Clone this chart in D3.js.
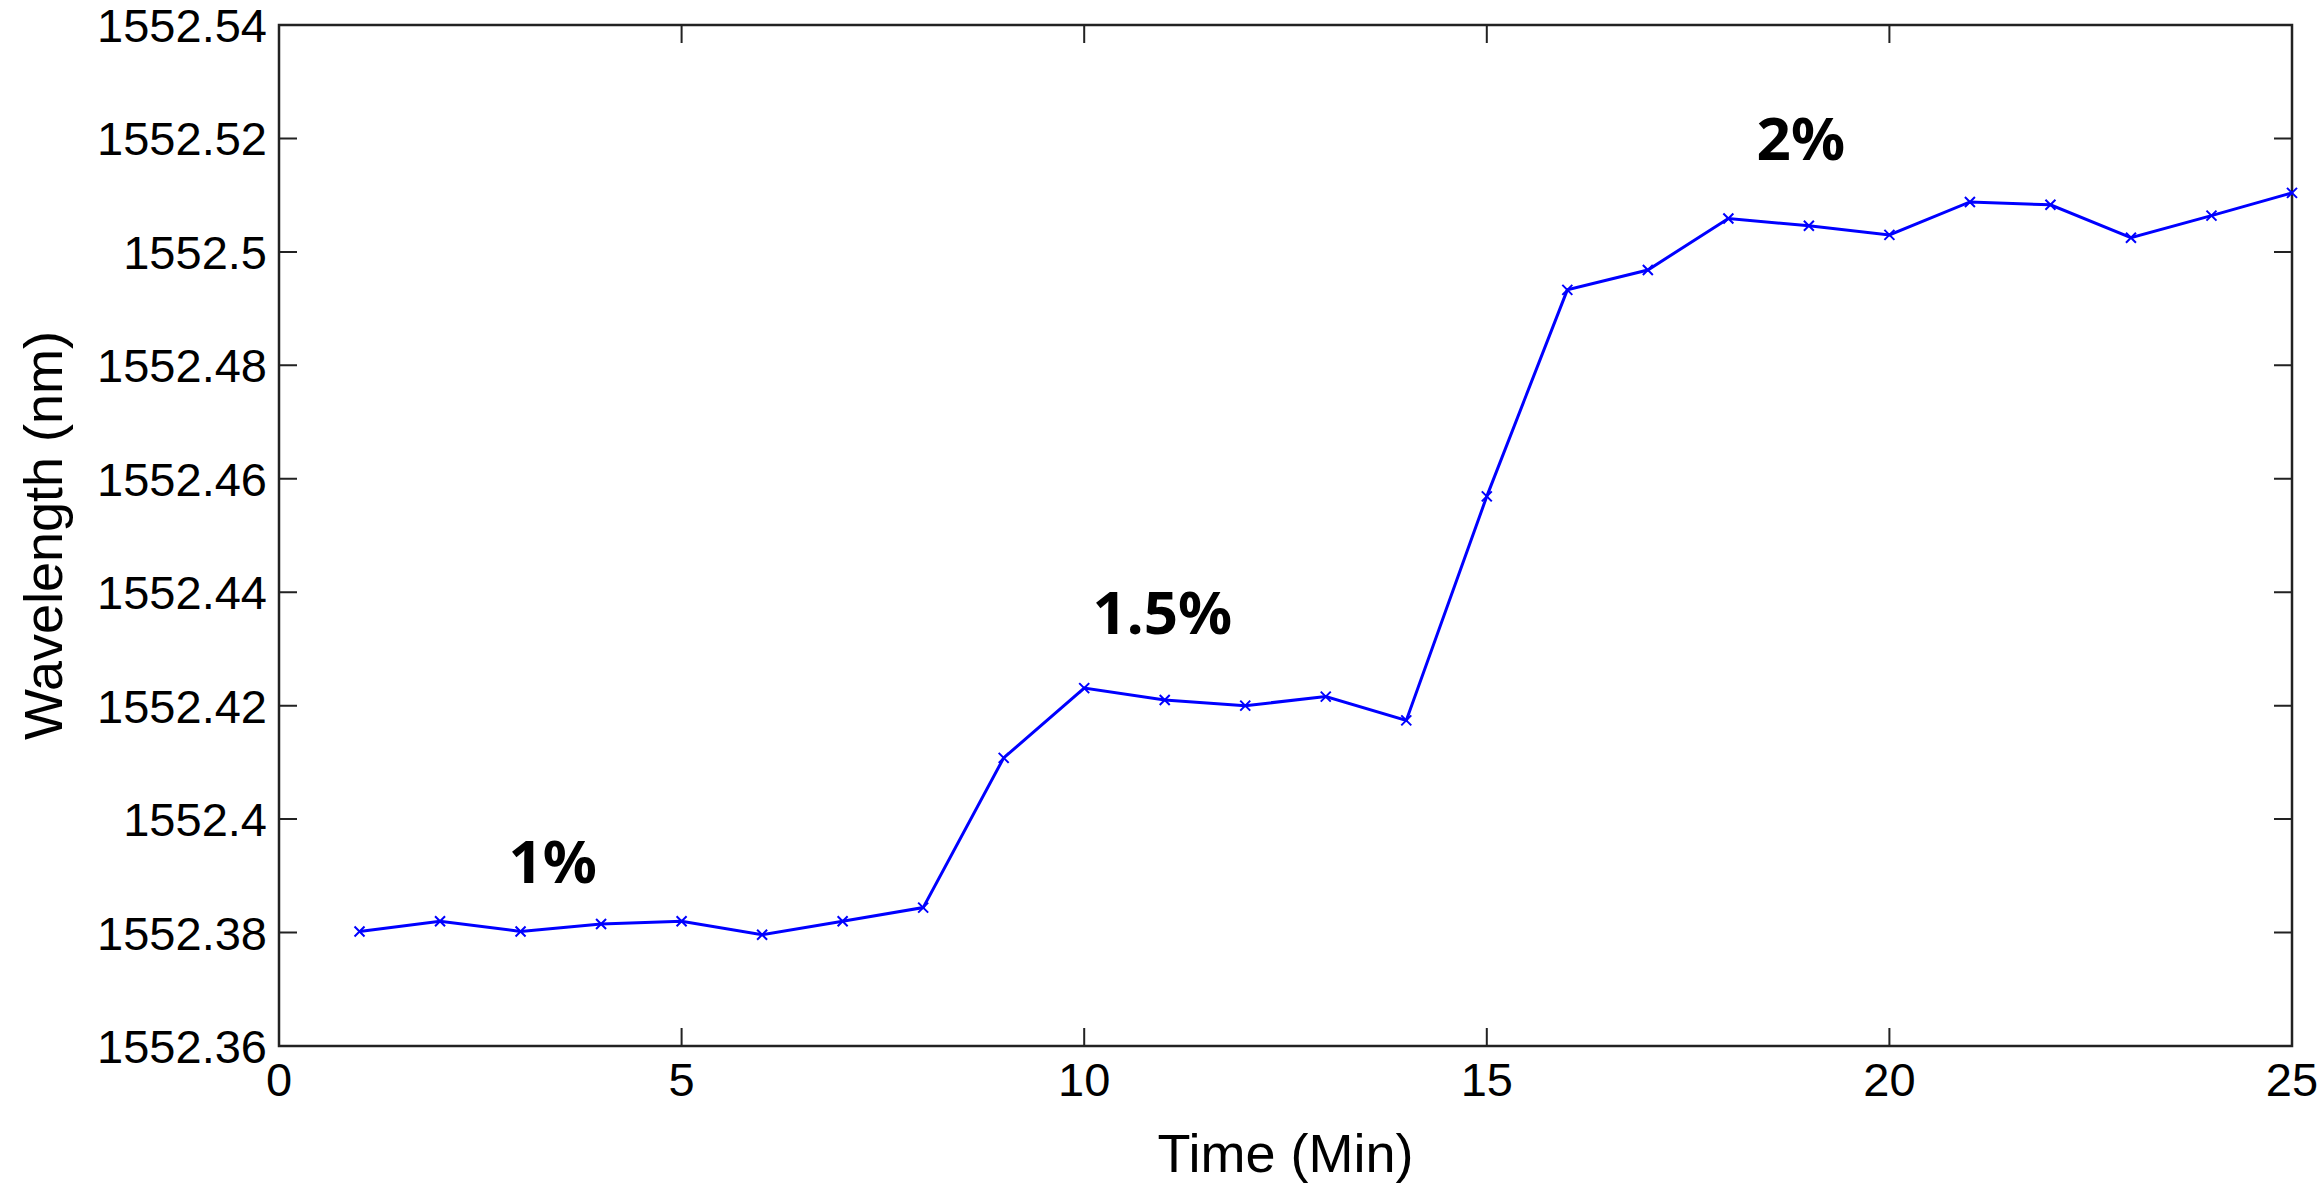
<!DOCTYPE html>
<html><head><meta charset="utf-8">
<script src="https://cdn.jsdelivr.net/npm/d3@7"></script>
<style>body{margin:0;background:#fff}svg{display:block}</style>
</head><body><svg id="sv" width="2324" height="1184"></svg>
<script>
const times = d3.range(1, 26);
const wavelengths = [1552.3802, 1552.3820, 1552.3802, 1552.3815, 1552.3820, 1552.3796, 1552.3820, 1552.3844,
  1552.4108, 1552.4231, 1552.4210, 1552.4200, 1552.4216, 1552.4174, 1552.4569, 1552.4933, 1552.4968,
  1552.5059, 1552.5046, 1552.5030, 1552.5088, 1552.5083, 1552.5025, 1552.5064, 1552.5104];
const xTicks = [0, 5, 10, 15, 20, 25];
const yTicks = [1552.36, 1552.38, 1552.4, 1552.42, 1552.44, 1552.46, 1552.48, 1552.5, 1552.52, 1552.54];
const notes = [{ t: 3.4, w: 1552.3927, label: "1%" }, { t: 10.97, w: 1552.4365, label: "1.5%" }, { t: 18.9, w: 1552.52, label: "2%" }];

const m = { l: 279, r: 2292, t: 25, b: 1046 };
const svg = d3.select("#sv");
const x = d3.scaleLinear().domain([0, 25]).range([m.l, m.r]);
const y = d3.scaleLinear().domain([1552.36, 1552.54]).range([m.b, m.t]);
const font = "Arial, 'Liberation Sans', sans-serif";

const g = svg.append("g");
// box
g.append("rect").attr("x", m.l).attr("y", m.t).attr("width", m.r - m.l).attr("height", m.b - m.t)
  .attr("fill", "none").attr("stroke", "#222").attr("stroke-width", 2.5);

// ticks (inward, mirrored)
const tl = 18;
g.selectAll(".xt").data(xTicks).enter().append("path")
  .attr("d", d => `M${x(d)},${m.b}v${-tl}M${x(d)},${m.t}v${tl}`).attr("stroke", "#222").attr("stroke-width", 2);
g.selectAll(".yt").data(yTicks).enter().append("path")
  .attr("d", d => `M${m.l},${y(d)}h${tl}M${m.r},${y(d)}h${-tl}`).attr("stroke", "#222").attr("stroke-width", 2);

g.selectAll(".xl").data(xTicks).enter().append("text")
  .attr("x", d => x(d)).attr("y", m.b + 50).attr("text-anchor", "middle")
  .attr("font-family", font).attr("font-size", 47).attr("fill", "#000").text(d => d);
g.selectAll(".yl").data(yTicks).enter().append("text")
  .attr("x", m.l - 12).attr("y", d => y(d) + 17).attr("text-anchor", "end")
  .attr("font-family", font).attr("font-size", 47).attr("fill", "#000").text(d => +d.toFixed(2));

g.append("text").attr("x", (m.l + m.r) / 2).attr("y", 1172).attr("text-anchor", "middle")
  .attr("font-family", font).attr("font-size", 54).text("Time (Min)");
g.append("text").attr("transform", `translate(62,${(m.t + m.b) / 2}) rotate(-90)`).attr("text-anchor", "middle")
  .attr("font-family", font).attr("font-size", 54).text("Wavelength (nm)");

// series
const pts = times.map((t, i) => [t, wavelengths[i]]);
g.append("path").datum(pts).attr("fill", "none").attr("stroke", "#0000ff").attr("stroke-width", 3)
  .attr("d", d3.line().x(d => x(d[0])).y(d => y(d[1])));
const s = 5;
g.selectAll(".mk").data(pts).enter().append("path")
  .attr("d", d => `M${x(d[0]) - s},${y(d[1]) - s}l${2 * s},${2 * s}M${x(d[0]) - s},${y(d[1]) + s}l${2 * s},${-2 * s}`)
  .attr("stroke", "#0000ff").attr("stroke-width", 2);

g.selectAll(".nt").data(notes).enter().append("text")
  .attr("x", d => x(d.t)).attr("y", d => y(d.w) + 22).attr("text-anchor", "middle")
  .attr("font-family", "'Noto Sans', 'Open Sans', sans-serif").attr("font-weight", "bold").attr("font-size", 60)
  .text(d => d.label);
</script></body></html>
